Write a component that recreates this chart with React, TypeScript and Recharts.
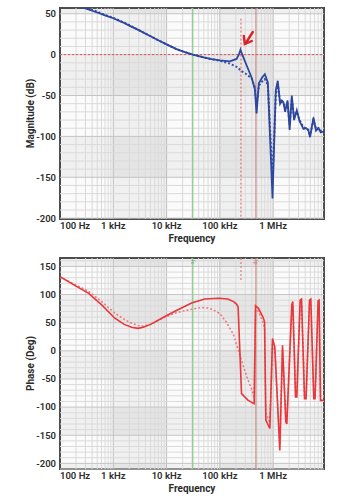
import React from "react";
import {
  LineChart,
  Line,
  XAxis,
  YAxis,
  ReferenceArea,
  ReferenceLine,
  ReferenceDot
} from "recharts";

const FONT = "Roboto, 'Noto Sans', sans-serif";

// x axis (Hz)
const freqTicks = [100, 1000, 10000, 100000, 1000000];
const freqDomain = [100, 9000000];
const fCross = 31000;
const fPeak = 249000;
const fLimit = 475000;

// magnitude
const magTicks = [-200, -150, -100, -50, 0, 50];
const magFreq = [
  100, 150, 200, 300, 500, 700, 1000, 1500, 2000, 3000, 5000, 7000, 10000, 15000, 20000,
  31000, 50000, 70000, 100000, 154000, 206000, 230000, 244000, 267000, 317000, 394000,
  453000, 488000, 539000, 620000, 698000, 795000, 973000, 1120000, 1220000, 1350000,
  1460000, 1560000, 1680000, 1860000, 2040000, 2240000, 2470000, 2780000, 3120000,
  3710000, 4200000, 4600000, 4930000, 5710000, 6390000, 7100000, 7840000, 8800000, 9000000
];
const magSolid = [
  64, 62, 60, 56.5, 51.5, 48, 44.5, 39.5, 35.5, 30, 22.5, 17.5, 12.5, 7, 4,
  0, -3.5, -5.5, -7, -8.3, -5.3, 1, 6, -1, -13, -28,
  -42, -72, -35, -28, -24, -34, -176, -44, -32, -60,
  -56, -58, -70, -56, -92, -50, -80, -68, -81,
  -91, -90, -93, -101, -77, -93, -90, -95, -94, -93
];
const magDotted = [
  65, 63, 61, 57.5, 52.5, 48.5, 45, 40, 36, 30, 22.5, 17.5, 12.5, 7, 4,
  0, -3.5, -5.5, -7.5, -11, -15, -17.5, -19.5, -21, -24, -29,
  -40, -62, -38, -33, -30, -37, -150, -48, -36, -58,
  -58, -60, -66, -58, -85, -54, -76, -70, -80,
  -89, -90, -92, -98, -80, -91, -90, -93, -93, -93
];

// phase
const phaseTicks = [-200, -150, -100, -50, 0, 50, 100, 150];
const phaseFreq = [
  100, 200, 340, 600, 1070, 1600, 2210, 2900, 3650, 5000, 9300, 15600, 29500, 52000,
  95000, 140000, 181000, 205000, 220000, 255000, 340000, 421000, 440000, 467000, 530000,
  640000, 690000, 729000, 867000, 973000, 1074000, 1334000, 1499000, 1729000, 1805000,
  2239000, 2339000, 2630000, 2780000, 3210000, 3410000, 3880000, 4150000, 4810000,
  5090000, 5790000, 6120000, 6970000, 7280000, 7730000, 9000000
];
const phaseSolid = [
  132, 115, 102.5, 82, 58, 47, 42, 40, 42, 47, 61, 72, 85, 92,
  93.5, 92, 87.5, 83, 78, -76, -88, -93, -94, 80, 75.5,
  60.5, 52, -123, -138, 22, 7, -177, 10, -126, -130,
  82, 87.5, -82, -82, 90, 92, -85, -85, 90,
  92, -85, -85, 89, 90, -88, -88
];
const phaseDotFreq = [
  100, 200, 340, 600, 1070, 1600, 2210, 2900, 3650, 5000, 9300, 15600, 29500, 45000,
  60000, 75000, 100000, 130000, 178000, 255000, 320000, 400000, 440000, 467000, 530000,
  640000, 690000, 729000, 867000, 973000, 1074000, 1334000, 1499000, 1729000, 1805000,
  2239000, 2339000, 2630000, 2780000, 3210000, 3410000, 3880000, 4150000, 4810000,
  5090000, 5790000, 6120000, 6970000, 7280000, 7730000, 9000000
];
const phaseDotted = [
  131, 117, 106, 88, 67, 56, 49, 45, 44, 47, 60, 68, 74, 77,
  76, 73, 66, 52, 30, -17, -46, -70, -84, 72, 70,
  52, 40, -110, -128, 14, 0, -165, 2, -115, -120,
  70, 80, -72, -74, 80, 85, -78, -78, 82,
  85, -78, -78, 80, 82, -80, -82
];

const zip = (fs: number[], vs: number[]) => fs.map((f, i) => ({ f, v: vs[i] }));

const fmtFreq = (v: number) => {
  if (v >= 1e6) return `${v / 1e6} MHz`;
  if (v >= 1e3) return `${v / 1e3} kHz`;
  return `${v} Hz`;
};

const XTick = (props: any) => {
  const { x, y, payload } = props;
  const first = payload.value === freqDomain[0];
  return (
    <text
      x={x}
      y={y}
      dy="0.71em"
      textAnchor={first ? "start" : "middle"}
      fontSize={9.5}
      fontWeight={600}
      fontFamily={FONT}
      fill="#2b2b2b"
    >
      {fmtFreq(payload.value)}
    </text>
  );
};

const tinyLabel = (text: string, color: string) => (props: any) => {
  const { viewBox } = props;
  const x = viewBox.x;
  const y = viewBox.y + 2;
  return (
    <text
      x={x}
      y={y}
      transform={`rotate(90 ${x} ${y})`}
      dy="0.35em"
      fontSize={5}
      fill={color}
      fontFamily={FONT}
    >
      {text}
    </text>
  );
};

function backdrop(yMin: number, yMax: number, darkBands: number[][]) {
  const els: React.ReactNode[] = [];
  els.push(<ReferenceArea key="bg" y1={yMin} y2={yMax} fill="#f8f8f8" stroke="none" />);
  [[1e3, 1e4], [1e5, 1e6]].forEach(([a, b]) =>
    els.push(
      <ReferenceArea key={`vb${a}`} x1={a} x2={b} y1={yMin} y2={yMax} fill="#000" fillOpacity={0.045} stroke="none" />
    )
  );
  darkBands.forEach(([a, b]) =>
    els.push(
      <ReferenceArea key={`hb${a}`} y1={Math.max(a, yMin)} y2={Math.min(b, yMax)} fill="#000" fillOpacity={0.045} stroke="none" />
    )
  );
  for (let d = 100; d < freqDomain[1]; d *= 10) {
    for (let m = 2; m <= 9; m++) {
      if (d * m < freqDomain[1])
        els.push(<ReferenceLine key={`mx${d * m}`} x={d * m} stroke="#dadada" strokeWidth={1} />);
    }
    if (d > freqDomain[0])
      els.push(<ReferenceLine key={`Mx${d}`} x={d} stroke="#bdbdbd" strokeWidth={1} />);
  }
  for (let v = Math.ceil(yMin / 10) * 10; v < yMax; v += 10) {
    els.push(
      <ReferenceLine key={`my${v}`} y={v} stroke={v % 50 === 0 ? "#c4c4c4" : "#dadada"} strokeWidth={1} />
    );
  }
  return els;
}

const frame = (yMin: number, yMax: number) => (
  <ReferenceArea key="frame" y1={yMin} y2={yMax} fill="none" stroke="#4d4d4d" strokeWidth={2} />
);

const tickStyle = { fontSize: 9.5, fontWeight: 600, fontFamily: FONT, fill: "#2b2b2b" };
const titleStyle = { fontSize: 10, fontWeight: 700, fontFamily: FONT, fill: "#2b2b2b" };

const MagnitudeChart = () => {
  const yMin = -201;
  const yMax = 57;
  return (
    <LineChart width={354} height={250} margin={{ top: 8, right: 30, bottom: 0, left: 0 }}>
      <XAxis
        dataKey="f"
        type="number"
        scale="log"
        domain={freqDomain}
        ticks={freqTicks}
        interval={0}
        allowDataOverflow
        axisLine={false}
        tickLine={false}
        tickSize={1}
        tickMargin={2}
        height={31}
        tick={<XTick />}
        label={{ value: "Frequency", position: "insideBottom", offset: 8, style: titleStyle }}
      />
      <YAxis
        type="number"
        domain={[yMin, yMax]}
        ticks={magTicks}
        interval={0}
        allowDataOverflow
        axisLine={false}
        tickLine={false}
        tickSize={2}
        width={60}
        tick={{ ...tickStyle }}
        label={{ value: "Magnitude (dB)", angle: -90, position: "center", style: titleStyle }}
      />
      {backdrop(yMin, yMax, [[50, 100], [-50, 0], [-150, -100], [-250, -200]])}
      <ReferenceLine y={0} stroke="#e05555" strokeDasharray="2 2" strokeWidth={1} />
      <ReferenceLine x={fCross} stroke="#86c986" strokeWidth={1.2} />
      <ReferenceLine x={fLimit} stroke="#c97a7a" strokeWidth={1} />
      <ReferenceLine
        segment={[{ x: fPeak, y: 44 }, { x: fPeak, y: yMin }]}
        stroke="#e05555"
        strokeDasharray="2 2"
        strokeWidth={1}
      />
      {frame(yMin, yMax)}
      <Line
        data={zip(magFreq, magDotted)}
        dataKey="v"
        type="linear"
        stroke="#3550a8"
        strokeWidth={2}
        strokeDasharray="2 2"
        dot={false}
        isAnimationActive={false}
      />
      <Line
        data={zip(magFreq, magSolid)}
        dataKey="v"
        type="linear"
        stroke="#2d469e"
        strokeWidth={1.8}
        dot={false}
        isAnimationActive={false}
      />
      <ReferenceDot
        x={294000}
        y={13}
        shape={(p: any) => (
          <g stroke="#d8232a" strokeWidth={2.4} fill="none" strokeLinecap="round">
            <line x1={p.cx + 8} y1={p.cy - 12} x2={p.cx + 1} y2={p.cy - 1} />
            <path d={`M${p.cx - 1},${p.cy - 8} L${p.cx},${p.cy} L${p.cx + 7},${p.cy - 3}`} />
          </g>
        )}
      />
    </LineChart>
  );
};

const PhaseChart = () => {
  const yMin = -210;
  const yMax = 165;
  return (
    <LineChart width={354} height={250} margin={{ top: 8, right: 30, bottom: 0, left: 0 }}>
      <XAxis
        dataKey="f"
        type="number"
        scale="log"
        domain={freqDomain}
        ticks={freqTicks}
        interval={0}
        allowDataOverflow
        axisLine={false}
        tickLine={false}
        tickSize={1}
        tickMargin={2}
        height={31}
        tick={<XTick />}
        label={{ value: "Frequency", position: "insideBottom", offset: 8, style: titleStyle }}
      />
      <YAxis
        type="number"
        domain={[yMin, yMax]}
        ticks={phaseTicks}
        interval={0}
        allowDataOverflow
        axisLine={false}
        tickLine={false}
        tickSize={2}
        width={60}
        tick={{ ...tickStyle }}
        label={{ value: "Phase (Deg)", angle: -90, position: "center", style: titleStyle }}
      />
      {backdrop(yMin, yMax, [[150, 200], [50, 100], [-50, 0], [-150, -100], [-250, -200]])}
      <ReferenceLine x={fCross} stroke="#86c986" strokeWidth={1.2} label={tinyLabel("fc", "#6aa86a")} />
      <ReferenceLine x={fLimit} stroke="#c97a7a" strokeWidth={1} label={tinyLabel("fp", "#c97a7a")} />
      <ReferenceLine
        segment={[{ x: fPeak, y: yMax }, { x: fPeak, y: 126 }]}
        stroke="#e07a7a"
        strokeDasharray="2 2"
        strokeWidth={1.2}
      />
      {frame(yMin, yMax)}
      <Line
        data={zip(phaseDotFreq, phaseDotted)}
        dataKey="v"
        type="linear"
        stroke="#f07a7a"
        strokeWidth={1.6}
        strokeDasharray="2 2"
        dot={false}
        isAnimationActive={false}
      />
      <Line
        data={zip(phaseFreq, phaseSolid)}
        dataKey="v"
        type="linear"
        stroke="#e8363a"
        strokeWidth={1.6}
        dot={false}
        isAnimationActive={false}
      />
    </LineChart>
  );
};

export default function App() {
  return (
    <div style={{ position: "absolute", left: 0, top: 0, width: 354, height: 500, background: "#fff" }}>
      <MagnitudeChart />
      <PhaseChart />
    </div>
  );
}
